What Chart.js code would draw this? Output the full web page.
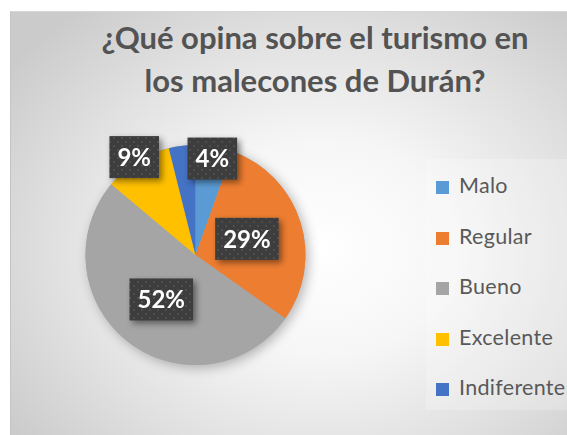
<!DOCTYPE html>
<html>
<head>
<meta charset="utf-8">
<script src="https://cdn.jsdelivr.net/npm/chart.js@4/dist/chart.umd.min.js"></script>
<style>
  html, body { margin:0; padding:0; width:567px; height:435px; overflow:hidden; background:#fff; }
  #marco {
    position:absolute; left:10px; top:11px; width:620px; height:430px;
    background: radial-gradient(ellipse 62% 72% at 50% 55%, #ffffff 0%, #f6f6f6 35%, #e0e0e0 70%, #cbcbcb 100%);
    border-left:1px solid #c4c4c4; border-top:1px solid #d6d6d6;
  }
  #cajaLeyenda {
    position:absolute; left:426px; top:159px; width:200px; height:251px;
    background:rgba(255,255,255,0.22);
  }
  #titulo {
    position:absolute; left:10px; top:16px; width:610px; text-align:center;
    font-family:Lato, sans-serif; font-weight:bold; font-size:31px; line-height:43px; color:#535353;
  }
  #leyenda { position:absolute; left:0; top:0; margin:0; padding:0; list-style:none; }
  #leyenda li {
    position:absolute; left:436px; height:24px; line-height:24px; white-space:nowrap;
    font-family:Lato, sans-serif; font-size:21.5px; letter-spacing:0.3px; color:#595959;
  }
  #leyenda li span {
    display:inline-block; width:13px; height:13px; margin-right:10px; vertical-align:-1px;
  }
  #grafica { position:absolute; left:0; top:0; }
</style>
</head>
<body>
<div id="marco"></div>
<div id="cajaLeyenda"></div>
<div id="titulo">¿Qué opina sobre el turismo en<br>los malecones de Durán?</div>
<ul id="leyenda"></ul>
<canvas id="grafica" width="567" height="435"></canvas>
<script>
//DATOS
var categorias = ['Malo', 'Regular', 'Bueno', 'Excelente', 'Indiferente'];
var valores = [5.5, 29.3, 51.3, 10, 3.9];
var etiquetas = ['4%', '29%', '52%', '9%', ''];
var colores = ['#5B9BD5', '#ED7D31', '#A5A5A5', '#FFC000', '#4472C4'];

//posicion de cada etiqueta (fraccion del radio)
var radioEtiqueta = [0.89, 0.49, 0.51, 1.05, 0.8];

var grafica = document.getElementById('grafica').getContext('2d');

//patron de puntos para las cajas de las etiquetas
function patronCaja(ctx) {
    var c = document.createElement('canvas');
    c.width = 8; c.height = 8;
    var p = c.getContext('2d');
    p.fillStyle = '#3d3d3d';
    p.fillRect(0, 0, 8, 8);
    p.fillStyle = 'rgba(255,255,255,0.09)';
    p.fillRect(1, 1, 2, 2);
    p.fillRect(5, 5, 2, 2);
    return ctx.createPattern(c, 'repeat');
}

//sombra debajo del pastel
var sombraPastel = {
    id: 'sombraPastel',
    beforeDatasetsDraw(chart) {
        var arco = chart.getDatasetMeta(0).data[0];
        if (!arco) return;
        var ctx = chart.ctx;
        ctx.save();
        ctx.shadowColor = 'rgba(0,0,0,0.28)';
        ctx.shadowBlur = 12;
        ctx.shadowOffsetX = 3;
        ctx.shadowOffsetY = 3;
        ctx.fillStyle = '#a5a5a5';
        ctx.beginPath();
        ctx.arc(arco.x, arco.y, arco.outerRadius, 0, Math.PI * 2);
        ctx.fill();
        ctx.restore();
    }
};

//etiquetas con caja oscura
var etiquetasDatos = {
    id: 'etiquetasDatos',
    afterDatasetsDraw(chart) {
        var ctx = chart.ctx;
        var relleno = patronCaja(ctx);
        chart.getDatasetMeta(0).data.forEach(function (arco, i) {
            var texto = etiquetas[i];
            if (!texto) return;
            var p = arco.getProps(['x', 'y', 'startAngle', 'endAngle', 'outerRadius'], true);
            var medio = (p.startAngle + p.endAngle) / 2;
            var r = p.outerRadius * radioEtiqueta[i];
            var cx = p.x + Math.cos(medio) * r;
            var cy = p.y + Math.sin(medio) * r;
            ctx.save();
            ctx.font = 'bold 24px Lato';
            var w = ctx.measureText(texto).width + 16;
            var h = 42;
            ctx.shadowColor = 'rgba(0,0,0,0.45)';
            ctx.shadowBlur = 6;
            ctx.shadowOffsetX = 3;
            ctx.shadowOffsetY = 3;
            ctx.fillStyle = relleno;
            ctx.fillRect(cx - w / 2, cy - h / 2, w, h);
            ctx.shadowColor = 'transparent';
            ctx.fillStyle = '#ffffff';
            ctx.textAlign = 'center';
            ctx.textBaseline = 'middle';
            ctx.fillText(texto, cx, cy + 1);
            ctx.restore();
        });
    }
};

var config = {
    type: 'pie',
    data: {
        labels: categorias,
        datasets: [{
            data: valores,
            backgroundColor: colores,
            borderWidth: 0,
            hoverOffset: 0
        }]
    },
    options: {
        responsive: false,
        animation: false,
        layout: { padding: { left: 85.5, right: 261.5, top: 145, bottom: 70 } },
        plugins: {
            tooltip: { enabled: false },
            legend: { display: false }
        }
    },
    plugins: [sombraPastel, etiquetasDatos]
};

var miGrafico = new Chart(grafica, config);

//LEYENDA (a partir de los elementos de la grafica)
var leyenda = document.getElementById('leyenda');
miGrafico.legend.legendItems.forEach(function (item, i) {
    var li = document.createElement('li');
    li.style.top = (185 + 50.5 * i - 12) + 'px';
    var caja = document.createElement('span');
    caja.style.background = item.fillStyle;
    li.appendChild(caja);
    li.appendChild(document.createTextNode(item.text));
    leyenda.appendChild(li);
});
</script>
</body>
</html>
